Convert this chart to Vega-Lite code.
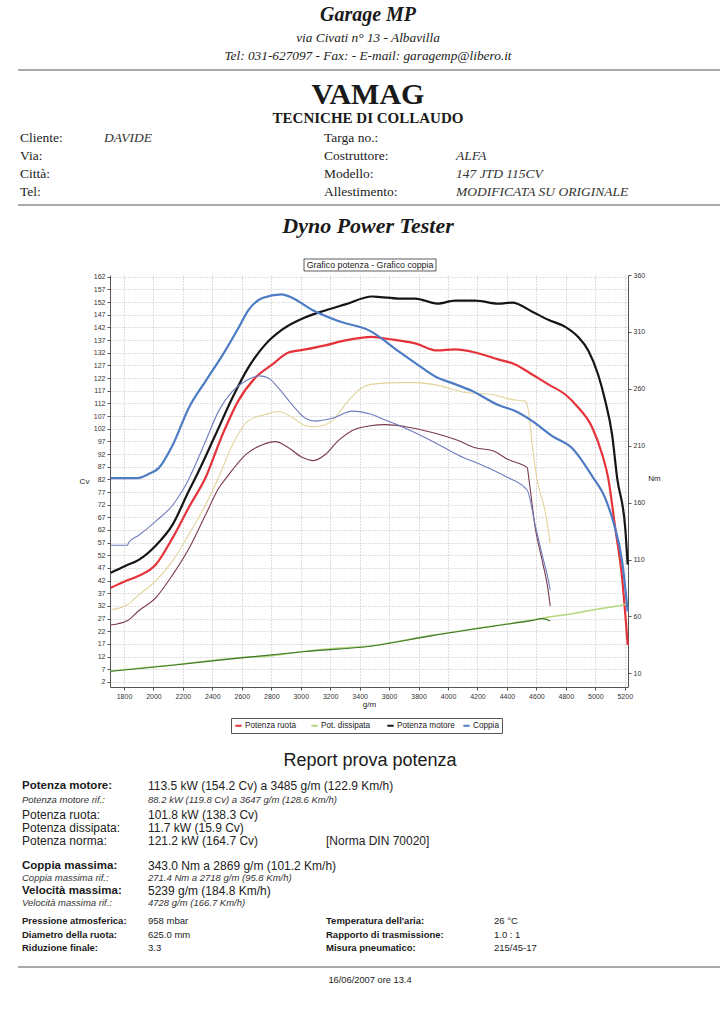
{
  "$schema": "https://vega.github.io/schema/vega-lite/v6.json",
  "width": 518,
  "height": 412,
  "autosize": {"type": "none"},
  "padding": {"left": 110, "top": 275, "right": 98, "bottom": 337},
  "background": "white",
  "config": {"font": "Liberation Sans", "view": {"stroke": null}, "axisX": {"labelOverlap": false}},
  "datasets": {
    "curves": [
      {"rpm":1710,"series":"Potenza motore","value":45.1},{"rpm":1812,"series":"Potenza motore","value":47.9},{"rpm":1900,"series":"Potenza motore","value":50.2},{"rpm":2015,"series":"Potenza motore","value":55.8},{"rpm":2130,"series":"Potenza motore","value":64.1},{"rpm":2239,"series":"Potenza motore","value":77.3},{"rpm":2286,"series":"Potenza motore","value":82.7},{"rpm":2422,"series":"Potenza motore","value":99.7},{"rpm":2537,"series":"Potenza motore","value":114.3},{"rpm":2645,"series":"Potenza motore","value":126.2},{"rpm":2760,"series":"Potenza motore","value":135.3},{"rpm":2876,"series":"Potenza motore","value":141.2},{"rpm":3032,"series":"Potenza motore","value":146.0},{"rpm":3167,"series":"Potenza motore","value":148.7},{"rpm":3303,"series":"Potenza motore","value":151.1},{"rpm":3485,"series":"Potenza motore","value":154.2},{"rpm":3540,"series":"Potenza motore","value":154.0},{"rpm":3662,"series":"Potenza motore","value":153.4},{"rpm":3778,"series":"Potenza motore","value":153.4},{"rpm":3927,"series":"Potenza motore","value":151.4},{"rpm":4049,"series":"Potenza motore","value":152.6},{"rpm":4185,"series":"Potenza motore","value":152.6},{"rpm":4341,"series":"Potenza motore","value":151.4},{"rpm":4436,"series":"Potenza motore","value":151.8},{"rpm":4572,"series":"Potenza motore","value":148.2},{"rpm":4681,"series":"Potenza motore","value":145.0},{"rpm":4796,"series":"Potenza motore","value":142.2},{"rpm":4884,"series":"Potenza motore","value":138.2},{"rpm":4952,"series":"Potenza motore","value":132.9},{"rpm":5019,"series":"Potenza motore","value":123.4},{"rpm":5067,"series":"Potenza motore","value":113.1},{"rpm":5114,"series":"Potenza motore","value":99.7},{"rpm":5148,"series":"Potenza motore","value":82.7},{"rpm":5203,"series":"Potenza motore","value":62.9},{"rpm":5220,"series":"Potenza motore","value":48.3},

      {"rpm":1710,"series":"Potenza ruota","value":39.2},{"rpm":1812,"series":"Potenza ruota","value":41.9},{"rpm":1900,"series":"Potenza ruota","value":43.9},{"rpm":2015,"series":"Potenza ruota","value":48.3},{"rpm":2130,"series":"Potenza ruota","value":58.9},{"rpm":2239,"series":"Potenza ruota","value":70.8},{"rpm":2354,"series":"Potenza ruota","value":82.7},{"rpm":2469,"series":"Potenza ruota","value":99.7},{"rpm":2577,"series":"Potenza ruota","value":113.1},{"rpm":2693,"series":"Potenza ruota","value":122.2},{"rpm":2808,"series":"Potenza ruota","value":127.4},{"rpm":2917,"series":"Potenza ruota","value":132.1},{"rpm":3032,"series":"Potenza ruota","value":133.3},{"rpm":3167,"series":"Potenza ruota","value":134.9},{"rpm":3303,"series":"Potenza ruota","value":136.9},{"rpm":3485,"series":"Potenza ruota","value":138.3},{"rpm":3540,"series":"Potenza ruota","value":137.9},{"rpm":3662,"series":"Potenza ruota","value":136.9},{"rpm":3778,"series":"Potenza ruota","value":135.7},{"rpm":3927,"series":"Potenza ruota","value":132.9},{"rpm":4049,"series":"Potenza ruota","value":133.3},{"rpm":4185,"series":"Potenza ruota","value":132.1},{"rpm":4341,"series":"Potenza ruota","value":129.4},{"rpm":4456,"series":"Potenza ruota","value":127.4},{"rpm":4572,"series":"Potenza ruota","value":123.4},{"rpm":4681,"series":"Potenza ruota","value":119.5},{"rpm":4796,"series":"Potenza ruota","value":115.5},{"rpm":4884,"series":"Potenza ruota","value":110.4},{"rpm":4979,"series":"Potenza ruota","value":102.5},{"rpm":5047,"series":"Potenza ruota","value":91.8},{"rpm":5087,"series":"Potenza ruota","value":82.7},{"rpm":5135,"series":"Potenza ruota","value":62.9},{"rpm":5182,"series":"Potenza ruota","value":43.1},{"rpm":5220,"series":"Potenza ruota","value":16.6},

      {"rpm":1710,"series":"Pot. dissipata","value":6.3},{"rpm":1900,"series":"Pot. dissipata","value":7.4},{"rpm":2130,"series":"Pot. dissipata","value":8.7},{"rpm":2354,"series":"Pot. dissipata","value":10.2},{"rpm":2577,"series":"Pot. dissipata","value":11.5},{"rpm":2808,"series":"Pot. dissipata","value":12.4},{"rpm":3032,"series":"Pot. dissipata","value":14.1},{"rpm":3255,"series":"Pot. dissipata","value":15.3},{"rpm":3485,"series":"Pot. dissipata","value":16.3},{"rpm":3662,"series":"Pot. dissipata","value":18.0},{"rpm":3893,"series":"Pot. dissipata","value":20.4},{"rpm":4117,"series":"Pot. dissipata","value":22.4},{"rpm":4341,"series":"Pot. dissipata","value":24.4},{"rpm":4572,"series":"Pot. dissipata","value":26.4},{"rpm":4681,"series":"Pot. dissipata","value":27.6},{"rpm":4796,"series":"Pot. dissipata","value":28.5},{"rpm":5019,"series":"Pot. dissipata","value":30.8},{"rpm":5182,"series":"Pot. dissipata","value":32.4},{"rpm":5220,"series":"Pot. dissipata","value":33.0},

      {"rpm":1710,"series":"Pot. dissipata rif.","value":6.2},{"rpm":2130,"series":"Pot. dissipata rif.","value":8.6},{"rpm":2577,"series":"Pot. dissipata rif.","value":11.4},{"rpm":3032,"series":"Pot. dissipata rif.","value":14.0},{"rpm":3485,"series":"Pot. dissipata rif.","value":16.2},{"rpm":3893,"series":"Pot. dissipata rif.","value":20.3},{"rpm":4341,"series":"Pot. dissipata rif.","value":24.3},{"rpm":4572,"series":"Pot. dissipata rif.","value":26.3},{"rpm":4640,"series":"Pot. dissipata rif.","value":27.0},{"rpm":4694,"series":"Pot. dissipata rif.","value":26.1},

      {"rpm":1710,"series":"Potenza motore rif.","value":30.5},{"rpm":1825,"series":"Potenza motore rif.","value":32.6},{"rpm":1900,"series":"Potenza motore rif.","value":36.4},{"rpm":2015,"series":"Potenza motore rif.","value":41.9},{"rpm":2130,"series":"Potenza motore rif.","value":49.8},{"rpm":2239,"series":"Potenza motore rif.","value":60.1},{"rpm":2354,"series":"Potenza motore rif.","value":72.0},{"rpm":2442,"series":"Potenza motore rif.","value":82.7},{"rpm":2537,"series":"Potenza motore rif.","value":95.7},{"rpm":2645,"series":"Potenza motore rif.","value":105.2},{"rpm":2760,"series":"Potenza motore rif.","value":107.6},{"rpm":2849,"series":"Potenza motore rif.","value":108.8},{"rpm":2944,"series":"Potenza motore rif.","value":106.4},{"rpm":3032,"series":"Potenza motore rif.","value":103.2},{"rpm":3100,"series":"Potenza motore rif.","value":102.8},{"rpm":3215,"series":"Potenza motore rif.","value":105.2},{"rpm":3303,"series":"Potenza motore rif.","value":111.6},{"rpm":3391,"series":"Potenza motore rif.","value":117.1},{"rpm":3473,"series":"Potenza motore rif.","value":119.5},{"rpm":3647,"series":"Potenza motore rif.","value":120.2},{"rpm":3778,"series":"Potenza motore rif.","value":120.2},{"rpm":3934,"series":"Potenza motore rif.","value":119.1},{"rpm":4117,"series":"Potenza motore rif.","value":116.3},{"rpm":4300,"series":"Potenza motore rif.","value":115.5},{"rpm":4436,"series":"Potenza motore rif.","value":113.5},{"rpm":4524,"series":"Potenza motore rif.","value":112.9},{"rpm":4547,"series":"Potenza motore rif.","value":108.8},{"rpm":4569,"series":"Potenza motore rif.","value":97.0},{"rpm":4603,"series":"Potenza motore rif.","value":82.5},{"rpm":4659,"series":"Potenza motore rif.","value":69.4},{"rpm":4694,"series":"Potenza motore rif.","value":56.8},

      {"rpm":1710,"series":"Potenza ruota rif.","value":24.5},{"rpm":1825,"series":"Potenza ruota rif.","value":26.3},{"rpm":1900,"series":"Potenza ruota rif.","value":30.1},{"rpm":2015,"series":"Potenza ruota rif.","value":35.2},{"rpm":2130,"series":"Potenza ruota rif.","value":44.3},{"rpm":2243,"series":"Potenza ruota rif.","value":54.9},{"rpm":2354,"series":"Potenza ruota rif.","value":68.0},{"rpm":2444,"series":"Potenza ruota rif.","value":78.6},{"rpm":2495,"series":"Potenza ruota rif.","value":82.6},{"rpm":2625,"series":"Potenza ruota rif.","value":91.7},{"rpm":2740,"series":"Potenza ruota rif.","value":95.7},{"rpm":2828,"series":"Potenza ruota rif.","value":96.9},{"rpm":2917,"series":"Potenza ruota rif.","value":94.5},{"rpm":3012,"series":"Potenza ruota rif.","value":90.6},{"rpm":3086,"series":"Potenza ruota rif.","value":89.4},{"rpm":3167,"series":"Potenza ruota rif.","value":91.8},{"rpm":3255,"series":"Potenza ruota rif.","value":97.3},{"rpm":3350,"series":"Potenza ruota rif.","value":101.3},{"rpm":3473,"series":"Potenza ruota rif.","value":103.2},{"rpm":3574,"series":"Potenza ruota rif.","value":103.6},{"rpm":3710,"series":"Potenza ruota rif.","value":102.8},{"rpm":3893,"series":"Potenza ruota rif.","value":100.5},{"rpm":4070,"series":"Potenza ruota rif.","value":97.3},{"rpm":4185,"series":"Potenza ruota rif.","value":94.5},{"rpm":4300,"series":"Potenza ruota rif.","value":93.4},{"rpm":4409,"series":"Potenza ruota rif.","value":89.8},{"rpm":4538,"series":"Potenza ruota rif.","value":86.6},{"rpm":4548,"series":"Potenza ruota rif.","value":82.7},{"rpm":4592,"series":"Potenza ruota rif.","value":62.9},{"rpm":4640,"series":"Potenza ruota rif.","value":49.8},{"rpm":4674,"series":"Potenza ruota rif.","value":40.3},{"rpm":4694,"series":"Potenza ruota rif.","value":32.0},

      {"rpm":1710,"series":"Coppia","value":181.5},{"rpm":1893,"series":"Coppia","value":181.5},{"rpm":1965,"series":"Coppia","value":185.0},{"rpm":2035,"series":"Coppia","value":190.3},{"rpm":2130,"series":"Coppia","value":210.5},{"rpm":2239,"series":"Coppia","value":243.0},{"rpm":2354,"series":"Coppia","value":266.8},{"rpm":2469,"series":"Coppia","value":289.6},{"rpm":2577,"series":"Coppia","value":313.4},{"rpm":2645,"series":"Coppia","value":329.2},{"rpm":2740,"series":"Coppia","value":339.8},{"rpm":2869,"series":"Coppia","value":343.0},{"rpm":2944,"series":"Coppia","value":339.8},{"rpm":3079,"series":"Coppia","value":329.2},{"rpm":3255,"series":"Coppia","value":319.5},{"rpm":3473,"series":"Coppia","value":310.7},{"rpm":3662,"series":"Coppia","value":293.2},{"rpm":3798,"series":"Coppia","value":280.8},{"rpm":3934,"series":"Coppia","value":269.4},{"rpm":4029,"series":"Coppia","value":265.0},{"rpm":4165,"series":"Coppia","value":258.0},{"rpm":4341,"series":"Coppia","value":245.7},{"rpm":4456,"series":"Coppia","value":240.4},{"rpm":4572,"series":"Coppia","value":231.6},{"rpm":4708,"series":"Coppia","value":218.4},{"rpm":4843,"series":"Coppia","value":207.8},{"rpm":4979,"series":"Coppia","value":183.2},{"rpm":5067,"series":"Coppia","value":163.9},{"rpm":5121,"series":"Coppia","value":143.6},{"rpm":5182,"series":"Coppia","value":108.5},{"rpm":5220,"series":"Coppia","value":64.5},

      {"rpm":1710,"series":"Coppia rif.","value":122.5},{"rpm":1823,"series":"Coppia rif.","value":122.5},{"rpm":1832,"series":"Coppia rif.","value":125.0},{"rpm":1900,"series":"Coppia rif.","value":131.3},{"rpm":2015,"series":"Coppia rif.","value":143.6},{"rpm":2130,"series":"Coppia rif.","value":157.7},{"rpm":2218,"series":"Coppia rif.","value":175.3},{"rpm":2354,"series":"Coppia rif.","value":214.0},{"rpm":2442,"series":"Coppia rif.","value":240.4},{"rpm":2537,"series":"Coppia rif.","value":258.0},{"rpm":2625,"series":"Coppia rif.","value":266.8},{"rpm":2718,"series":"Coppia rif.","value":271.4},{"rpm":2780,"series":"Coppia rif.","value":269.4},{"rpm":2849,"series":"Coppia rif.","value":260.6},{"rpm":2944,"series":"Coppia rif.","value":245.7},{"rpm":3032,"series":"Coppia rif.","value":234.2},{"rpm":3100,"series":"Coppia rif.","value":231.6},{"rpm":3215,"series":"Coppia rif.","value":234.2},{"rpm":3350,"series":"Coppia rif.","value":240.4},{"rpm":3473,"series":"Coppia rif.","value":237.8},{"rpm":3574,"series":"Coppia rif.","value":232.5},{"rpm":3710,"series":"Coppia rif.","value":225.4},{"rpm":3893,"series":"Coppia rif.","value":214.0},{"rpm":4070,"series":"Coppia rif.","value":201.7},{"rpm":4232,"series":"Coppia rif.","value":192.9},{"rpm":4388,"series":"Coppia rif.","value":183.2},{"rpm":4538,"series":"Coppia rif.","value":170.9},{"rpm":4592,"series":"Coppia rif.","value":140.1},{"rpm":4640,"series":"Coppia rif.","value":113.7},{"rpm":4674,"series":"Coppia rif.","value":96.2},{"rpm":4694,"series":"Coppia rif.","value":83.0}
    ],
    "header": [
      {"kind":"org","row":0,"col":0,"text":"Garage MP"},
      {"kind":"addr","row":1,"col":0,"text":"via Civati n° 13 - Albavilla"},
      {"kind":"addr","row":2,"col":0,"text":"Tel: 031-627097 - Fax:  - E-mail: garagemp@libero.it"},
      {"kind":"rule","row":3,"col":6,"col2":7},
      {"kind":"brand","row":4,"col":0,"text":"VAMAG"},
      {"kind":"sub","row":5,"col":0,"text":"TECNICHE DI COLLAUDO"},
      {"kind":"label","row":6,"col":1,"text":"Cliente:"},
      {"kind":"value","row":6,"col":2,"text":"DAVIDE"},
      {"kind":"label","row":6,"col":3,"text":"Targa no.:"},
      {"kind":"label","row":7,"col":1,"text":"Via:"},
      {"kind":"label","row":7,"col":3,"text":"Costruttore:"},
      {"kind":"value","row":7,"col":4,"text":"ALFA"},
      {"kind":"label","row":8,"col":1,"text":"Città:"},
      {"kind":"label","row":8,"col":3,"text":"Modello:"},
      {"kind":"value","row":8,"col":4,"text":"147 JTD 115CV"},
      {"kind":"label","row":9,"col":1,"text":"Tel:"},
      {"kind":"label","row":9,"col":3,"text":"Allestimento:"},
      {"kind":"value","row":9,"col":4,"text":"MODIFICATA SU ORIGINALE"},
      {"kind":"rule","row":10,"col":6,"col2":7},
      {"kind":"dyno","row":11,"col":0,"text":"Dyno Power Tester"},
      {"kind":"box","row":12,"col":5,"text":"Grafico potenza - Grafico coppia"}
    ],
    "report": [
      {"kind":"title","row":0,"col":0,"text":"Report prova potenza"},
      {"kind":"boldlabel","row":1,"col":1,"text":"Potenza motore:"},
      {"kind":"bigvalue","row":1,"col":2,"text":"113.5 kW (154.2 Cv) a 3485 g/m (122.9 Km/h)"},
      {"kind":"rif","row":2,"col":1,"text":"Potenza motore rif.:"},
      {"kind":"rif","row":2,"col":2,"text":"88.2 kW (119.8 Cv) a 3647 g/m (128.6 Km/h)"},
      {"kind":"biglabel","row":3,"col":1,"text":"Potenza ruota:"},
      {"kind":"bigvalue","row":3,"col":2,"text":"101.8 kW (138.3 Cv)"},
      {"kind":"biglabel","row":4,"col":1,"text":"Potenza dissipata:"},
      {"kind":"bigvalue","row":4,"col":2,"text":"11.7 kW (15.9 Cv)"},
      {"kind":"biglabel","row":5,"col":1,"text":"Potenza norma:"},
      {"kind":"bigvalue","row":5,"col":2,"text":"121.2 kW (164.7 Cv)"},
      {"kind":"bigvalue","row":5,"col":3,"text":"[Norma DIN 70020]"},
      {"kind":"boldlabel","row":6,"col":1,"text":"Coppia massima:"},
      {"kind":"bigvalue","row":6,"col":2,"text":"343.0 Nm a 2869 g/m (101.2 Km/h)"},
      {"kind":"rif","row":7,"col":1,"text":"Coppia massima rif.:"},
      {"kind":"rif","row":7,"col":2,"text":"271.4 Nm a 2718 g/m (95.8 Km/h)"},
      {"kind":"boldlabel","row":8,"col":1,"text":"Velocità massima:"},
      {"kind":"bigvalue","row":8,"col":2,"text":"5239 g/m (184.8 Km/h)"},
      {"kind":"rif","row":9,"col":1,"text":"Velocità massima rif.:"},
      {"kind":"rif","row":9,"col":2,"text":"4728 g/m (166.7 Km/h)"},
      {"kind":"plabel","row":10,"col":1,"text":"Pressione atmosferica:"},
      {"kind":"pvalue","row":10,"col":2,"text":"958 mbar"},
      {"kind":"plabel","row":10,"col":3,"text":"Temperatura dell'aria:"},
      {"kind":"pvalue","row":10,"col":4,"text":"26 °C"},
      {"kind":"plabel","row":11,"col":1,"text":"Diametro della ruota:"},
      {"kind":"pvalue","row":11,"col":2,"text":"625.0 mm"},
      {"kind":"plabel","row":11,"col":3,"text":"Rapporto di trasmissione:"},
      {"kind":"pvalue","row":11,"col":4,"text":"1.0 : 1"},
      {"kind":"plabel","row":12,"col":1,"text":"Riduzione finale:"},
      {"kind":"pvalue","row":12,"col":2,"text":"3.3"},
      {"kind":"plabel","row":12,"col":3,"text":"Misura pneumatico:"},
      {"kind":"pvalue","row":12,"col":4,"text":"215/45-17"},
      {"kind":"rule","row":13,"col":5,"col2":6},
      {"kind":"date","row":14,"col":0,"text":"16/06/2007 ore 13.4"}
    ]
  },
  "layer": [
    {
      "data": {"name": "curves"},
      "layer": [
        {
          "encoding": {
            "x": {"field": "rpm", "type": "quantitative", "scale": {"domain": [1705, 5222], "nice": false, "zero": false},
              "axis": {"values": [1800,2000,2200,2400,2600,2800,3000,3200,3400,3600,3800,4000,4200,4400,4600,4800,5000,5200], "format": "d", "labelOverlap": false, "labelSeparation": 0, "title": "g/m", "titleFontSize": 8, "titleFontWeight": "normal", "titlePadding": 1, "titleColor": "#222", "labelFontSize": 7, "labelPadding": 2, "labelColor": "#333", "labelFlush": false, "tickSize": 3, "tickColor": "#555", "domainColor": "#555", "grid": true, "gridColor": "#bdbdbd", "gridDash": [1, 2]}},
            "y": {"field": "value", "type": "quantitative", "scale": {"domain": [0, 162.7], "nice": false, "zero": false},
              "axis": {"values": [2,7,12,17,22,27,32,37,42,47,52,57,62,67,72,77,82,87,92,97,102,107,112,117,122,127,132,137,142,147,152,157,162], "labelOverlap": false, "title": "Cv", "titleAngle": 0, "titleX": -26, "titleY": 206, "titleAlign": "center", "titleBaseline": "middle", "titleFontSize": 8, "titleFontWeight": "normal", "titleColor": "#222", "labelFontSize": 7, "labelPadding": 2, "labelColor": "#333", "tickSize": 3, "tickColor": "#555", "domainColor": "#555", "grid": true, "gridColor": "#bdbdbd", "gridDash": [1, 2]}}
          },
          "layer": [
            {
              "transform": [{"filter": {"field": "series", "oneOf": ["Potenza ruota", "Potenza motore"]}}],
              "mark": {"type": "line", "strokeWidth": 2.2, "interpolate": "monotone"},
              "encoding": {"color": {"field": "series", "type": "nominal", "scale": {"domain": ["Potenza ruota", "Pot. dissipata", "Potenza motore", "Coppia"], "range": ["#e5333b", "#b5d77f", "#151515", "#4d7cc4"]},
                "legend": {"title": null, "orient": "none", "legendX": 121, "legendY": 443, "direction": "horizontal", "columns": 4, "gridAlign": "all", "columnPadding": 4, "symbolType": "stroke", "symbolStrokeWidth": 2, "symbolSize": 40, "labelOffset": 2, "labelFontSize": 8.2, "labelColor": "#222", "padding": 3, "strokeColor": "#555", "fillColor": "white"}}}
            },
            {
              "transform": [{"filter": {"field": "series", "equal": "Pot. dissipata"}}],
              "mark": {"type": "line", "strokeWidth": 1.6, "interpolate": "monotone"},
              "encoding": {"color": {"field": "series", "type": "nominal", "scale": {"domain": ["Potenza ruota", "Pot. dissipata", "Potenza motore", "Coppia"], "range": ["#e5333b", "#b5d77f", "#151515", "#4d7cc4"]}}}
            },
            {
              "transform": [{"filter": {"field": "series", "oneOf": ["Potenza motore rif.", "Potenza ruota rif.", "Pot. dissipata rif."]}}],
              "mark": {"type": "line", "strokeWidth": 1.1, "interpolate": "monotone"},
              "encoding": {"stroke": {"field": "series", "type": "nominal", "scale": {"domain": ["Potenza motore rif.", "Potenza ruota rif.", "Pot. dissipata rif.", "Coppia rif."], "range": ["#e2d49a", "#7a3a4c", "#3f7a2e", "#6f7cbf"]}, "legend": null}}
            }
          ]
        },
        {
          "encoding": {
            "x": {"field": "rpm", "type": "quantitative", "scale": {"domain": [1705, 5222], "nice": false, "zero": false},
              "axis": {"values": [1800,2000,2200,2400,2600,2800,3000,3200,3400,3600,3800,4000,4200,4400,4600,4800,5000,5200], "format": "d", "labelOverlap": false, "labelSeparation": 0, "title": "g/m", "titleFontSize": 8, "titleFontWeight": "normal", "titlePadding": 1, "titleColor": "#222", "labelFontSize": 7, "labelPadding": 2, "labelColor": "#333", "labelFlush": false, "tickSize": 3, "tickColor": "#555", "domainColor": "#555", "grid": true, "gridColor": "#bdbdbd", "gridDash": [1, 2]}},
            "y": {"field": "value", "type": "quantitative", "scale": {"domain": [-2, 360], "nice": false, "zero": false},
              "axis": {"orient": "right", "values": [10,60,110,160,210,260,310,360], "title": "Nm", "titleAngle": 0, "titleX": 26, "titleY": 203, "titleAlign": "center", "titleBaseline": "middle", "titleFontSize": 8, "titleFontWeight": "normal", "titleColor": "#222", "labelFontSize": 7, "labelPadding": 2, "labelColor": "#333", "tickSize": 3, "tickColor": "#555", "domainColor": "#555", "grid": false}}
          },
          "layer": [
            {
              "transform": [{"filter": {"field": "series", "equal": "Coppia"}}],
              "mark": {"type": "line", "strokeWidth": 2.2, "interpolate": "monotone"},
              "encoding": {"color": {"field": "series", "type": "nominal", "scale": {"domain": ["Potenza ruota", "Pot. dissipata", "Potenza motore", "Coppia"], "range": ["#e5333b", "#b5d77f", "#151515", "#4d7cc4"]}}}
            },
            {
              "transform": [{"filter": {"field": "series", "equal": "Coppia rif."}}],
              "mark": {"type": "line", "strokeWidth": 1.1, "interpolate": "monotone"},
              "encoding": {"stroke": {"field": "series", "type": "nominal", "scale": {"domain": ["Potenza motore rif.", "Potenza ruota rif.", "Pot. dissipata rif.", "Coppia rif."], "range": ["#e2d49a", "#7a3a4c", "#3f7a2e", "#6f7cbf"]}, "legend": null}}
            }
          ]
        }
      ],
      "resolve": {"scale": {"y": "independent"}}
    },
    {
      "data": {"name": "header"},
      "encoding": {
        "x": {"field": "col", "type": "quantitative", "scale": {"domain": [0,1,2,3,4,5,6,7], "range": [258,-90,-6,214,346,260,-92,610], "nice": false, "zero": false}, "axis": null},
        "y": {"field": "row", "type": "quantitative", "scale": {"domain": [0,1,2,3,4,5,6,7,8,9,10,11,12], "range": [-260,-237,-219,-205,-180,-157,-137,-119,-101,-83,-70,-49,-10], "nice": false, "zero": false}, "axis": null}
      },
      "layer": [
        {"transform": [{"filter": "datum.kind === 'org'"}], "mark": {"type": "text", "font": "Liberation Serif", "fontSize": 20, "fontWeight": "bold", "fontStyle": "italic", "align": "center", "baseline": "middle", "color": "#1a1a1a"}, "encoding": {"text": {"field": "text"}}},
        {"transform": [{"filter": "datum.kind === 'addr'"}], "mark": {"type": "text", "font": "Liberation Serif", "fontSize": 13.3, "fontStyle": "italic", "align": "center", "baseline": "middle", "color": "#222"}, "encoding": {"text": {"field": "text"}}},
        {"transform": [{"filter": "datum.kind === 'rule'"}], "mark": {"type": "rule", "color": "#8c8c8c", "strokeWidth": 1.5}, "encoding": {"x2": {"field": "col2"}}},
        {"transform": [{"filter": "datum.kind === 'brand'"}], "mark": {"type": "text", "font": "Liberation Serif", "fontSize": 30, "fontWeight": "bold", "align": "center", "baseline": "middle", "color": "#1a1a1a"}, "encoding": {"text": {"field": "text"}}},
        {"transform": [{"filter": "datum.kind === 'sub'"}], "mark": {"type": "text", "font": "Liberation Serif", "fontSize": 15, "fontWeight": "bold", "align": "center", "baseline": "middle", "color": "#1a1a1a"}, "encoding": {"text": {"field": "text"}}},
        {"transform": [{"filter": "datum.kind === 'label'"}], "mark": {"type": "text", "font": "Liberation Serif", "fontSize": 13.5, "align": "left", "baseline": "middle", "color": "#222"}, "encoding": {"text": {"field": "text"}}},
        {"transform": [{"filter": "datum.kind === 'value'"}], "mark": {"type": "text", "font": "Liberation Serif", "fontSize": 13.5, "fontStyle": "italic", "align": "left", "baseline": "middle", "color": "#333"}, "encoding": {"text": {"field": "text"}}},
        {"transform": [{"filter": "datum.kind === 'dyno'"}], "mark": {"type": "text", "font": "Liberation Serif", "fontSize": 22, "fontWeight": "bold", "fontStyle": "italic", "align": "center", "baseline": "middle", "color": "#1a1a1a"}, "encoding": {"text": {"field": "text"}}},
        {"transform": [{"filter": "datum.kind === 'box'"}], "mark": {"type": "point", "shape": "M-1,-0.0909L1,-0.0909L1,0.0909L-1,0.0909Z", "size": 17424, "filled": false, "stroke": "#333", "strokeWidth": 0.8, "opacity": 1}},
        {"transform": [{"filter": "datum.kind === 'box'"}], "mark": {"type": "text", "fontSize": 8.8, "align": "center", "baseline": "middle", "color": "#222"}, "encoding": {"text": {"field": "text"}}}
      ]
    },
    {
      "data": {"name": "report"},
      "encoding": {
        "x": {"field": "col", "type": "quantitative", "scale": {"domain": [0,1,2,3,4,5,6], "range": [260,-88,38,216,384,-92,610], "nice": false, "zero": false}, "axis": null},
        "y": {"field": "row", "type": "quantitative", "scale": {"domain": [0,1,2,3,4,5,6,7,8,9,10,11,12,13,14], "range": [486,511,525,540,553,566,591,603,616,628,646,660,673,692,705], "nice": false, "zero": false}, "axis": null}
      },
      "layer": [
        {"transform": [{"filter": "datum.kind === 'title'"}], "mark": {"type": "text", "fontSize": 18, "align": "center", "baseline": "middle", "color": "#1a1a1a"}, "encoding": {"text": {"field": "text"}}},
        {"transform": [{"filter": "datum.kind === 'boldlabel'"}], "mark": {"type": "text", "fontSize": 11.5, "fontWeight": "bold", "align": "left", "baseline": "middle", "color": "#1a1a1a"}, "encoding": {"text": {"field": "text"}}},
        {"transform": [{"filter": "datum.kind === 'biglabel'"}], "mark": {"type": "text", "fontSize": 12, "align": "left", "baseline": "middle", "color": "#222"}, "encoding": {"text": {"field": "text"}}},
        {"transform": [{"filter": "datum.kind === 'bigvalue'"}], "mark": {"type": "text", "fontSize": 12, "align": "left", "baseline": "middle", "color": "#222"}, "encoding": {"text": {"field": "text"}}},
        {"transform": [{"filter": "datum.kind === 'rif'"}], "mark": {"type": "text", "fontSize": 9.5, "fontStyle": "italic", "align": "left", "baseline": "middle", "color": "#333"}, "encoding": {"text": {"field": "text"}}},
        {"transform": [{"filter": "datum.kind === 'plabel'"}], "mark": {"type": "text", "fontSize": 9.5, "fontWeight": "bold", "align": "left", "baseline": "middle", "color": "#1a1a1a"}, "encoding": {"text": {"field": "text"}}},
        {"transform": [{"filter": "datum.kind === 'pvalue'"}], "mark": {"type": "text", "fontSize": 9.5, "align": "left", "baseline": "middle", "color": "#222"}, "encoding": {"text": {"field": "text"}}},
        {"transform": [{"filter": "datum.kind === 'rule'"}], "mark": {"type": "rule", "color": "#8c8c8c", "strokeWidth": 1.5}, "encoding": {"x2": {"field": "col2"}}},
        {"transform": [{"filter": "datum.kind === 'date'"}], "mark": {"type": "text", "fontSize": 9.3, "align": "center", "baseline": "middle", "color": "#222"}, "encoding": {"text": {"field": "text"}}}
      ]
    }
  ],
  "resolve": {"scale": {"x": "independent", "y": "independent"}}
}
